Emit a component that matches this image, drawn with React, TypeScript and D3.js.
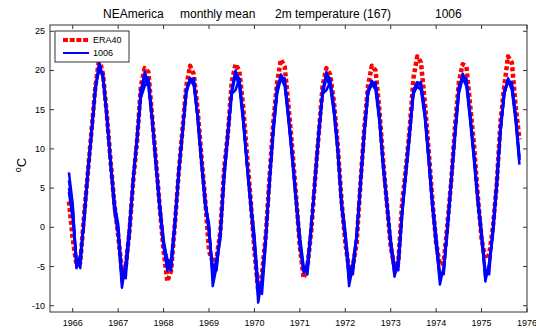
import React from "react";
import * as d3 from "d3";

// Monthly series, Nov 1965 .. Oct 1975 (12 values per row: Nov..Oct)
const era40: number[] = [
  3.3, -1.5, -4.8, -4.5, 1.5, 7.0, 12.5, 18.0, 21.5, 19.5, 14.5, 8.5,
  3.0, -1.0, -5.6, -5.0, -0.5, 6.0, 11.0, 18.0, 20.3, 19.8, 14.0, 8.5,
  2.5, -3.0, -6.9, -5.5, 0.5, 7.0, 12.5, 18.0, 20.6, 19.5, 15.0, 9.0,
  3.5, -3.0, -4.5, -4.0, -0.5, 7.5, 12.0, 18.5, 20.8, 20.0, 15.5, 9.5,
  3.5, -3.0, -8.2, -6.0, -1.0, 6.5, 13.5, 18.5, 21.4, 20.5, 15.5, 10.0,
  4.0, -2.5, -6.5, -5.0, -0.5, 6.0, 12.0, 18.0, 20.3, 19.5, 16.0, 10.5,
  3.5, -2.0, -5.4, -5.0, -2.0, 5.5, 12.5, 18.0, 20.6, 20.0, 15.0, 8.5,
  3.0, -2.5, -5.0, -4.5, 3.0, 7.5, 12.5, 19.0, 21.8, 21.0, 16.0, 10.0,
  3.5, -2.0, -4.8, -4.5, 0.5, 6.0, 13.0, 18.5, 20.8, 20.5, 15.5, 10.5,
  4.0, -1.5, -4.0, -3.5, 0.0, 5.5, 13.5, 18.0, 21.8, 21.0, 15.5, 11.2,
];

const run1006a: number[] = [
  7.0, 3.0, -5.0, -4.0, 1.0, 7.0, 12.0, 17.5, 20.8, 19.0, 14.0, 8.0,
  2.5, -1.0, -7.7, -4.5, 0.0, 6.5, 11.5, 17.0, 19.8, 18.5, 13.5, 8.0,
  2.5, -2.0, -5.0, -4.0, 1.0, 7.0, 12.0, 17.0, 19.0, 18.5, 14.0, 8.5,
  3.0, 0.5, -7.5, -5.0, -1.0, 6.5, 12.0, 17.5, 20.0, 18.5, 14.0, 8.5,
  3.0, -2.0, -9.6, -6.5, -1.5, 6.0, 12.5, 17.5, 19.5, 18.5, 14.0, 9.0,
  3.5, -2.0, -5.8, -4.5, 0.0, 6.0, 12.0, 17.0, 19.8, 18.5, 15.0, 10.0,
  3.0, -1.0, -7.5, -5.0, -1.5, 5.5, 12.0, 17.0, 18.7, 18.0, 14.0, 8.0,
  3.0, -2.0, -6.3, -4.0, 2.0, 7.0, 12.0, 17.0, 18.5, 18.0, 14.5, 9.0,
  3.0, -2.0, -7.3, -5.0, 0.0, 6.0, 12.0, 17.5, 19.6, 18.5, 14.0, 9.0,
  3.5, -1.0, -6.9, -4.5, -0.5, 5.5, 12.5, 17.0, 19.0, 18.0, 14.0, 8.6,
];

const run1006b: number[] = [
  4.5, 1.0, -4.0, -5.2, 1.5, 7.5, 12.5, 18.0, 20.5, 19.5, 14.5, 8.5,
  3.0, 0.5, -6.0, -6.5, -0.5, 6.0, 11.0, 16.5, 18.0, 18.5, 14.0, 8.5,
  3.0, -1.5, -4.5, -5.5, 0.5, 7.5, 12.5, 17.5, 18.5, 19.0, 14.5, 9.0,
  3.5, -1.0, -5.0, -4.5, -0.5, 7.0, 12.5, 17.0, 17.5, 19.0, 14.5, 8.0,
  3.5, -1.0, -7.5, -8.5, -2.0, 6.5, 13.0, 18.0, 19.0, 19.0, 14.5, 9.5,
  4.0, -1.0, -5.0, -6.0, -0.5, 6.5, 12.5, 17.0, 17.5, 18.5, 15.5, 10.5,
  3.5, -0.5, -5.5, -6.0, -1.0, 6.0, 12.5, 17.5, 18.0, 18.5, 14.5, 8.5,
  3.5, -1.5, -5.0, -5.5, 1.5, 7.5, 12.5, 17.5, 18.3, 18.5, 15.0, 9.5,
  3.5, -1.0, -6.0, -6.0, 0.5, 6.5, 12.5, 18.0, 19.0, 19.0, 14.5, 9.5,
  4.0, -0.5, -5.5, -6.0, 0.0, 6.0, 13.0, 17.5, 18.5, 18.5, 14.5, 9.0,
];

const run1006c: number[] = [
  5.0, 2.0, -5.2, -3.5, 0.5, 6.5, 12.0, 17.5, 21.0, 19.0, 14.0, 8.0,
  2.0, -0.5, -7.0, -5.5, -1.0, 6.0, 11.5, 17.5, 19.5, 18.0, 13.5, 7.5,
  2.0, -2.5, -5.5, -4.5, 0.0, 6.5, 12.0, 17.5, 19.0, 18.0, 14.0, 8.0,
  2.5, 0.0, -6.5, -4.0, -1.5, 6.0, 11.5, 17.0, 19.5, 18.0, 13.5, 8.0,
  2.5, -2.5, -8.8, -7.5, -1.0, 5.5, 12.0, 17.0, 19.0, 18.0, 13.5, 8.5,
  3.0, -2.5, -5.5, -5.5, 0.5, 5.5, 11.5, 17.0, 19.0, 18.0, 14.5, 9.5,
  2.5, -1.5, -6.5, -4.5, -1.0, 5.0, 11.5, 17.0, 18.5, 17.5, 13.5, 7.5,
  2.5, -2.5, -6.0, -5.0, 1.5, 6.5, 11.5, 17.0, 18.0, 17.5, 14.0, 8.5,
  2.5, -2.5, -6.5, -5.5, -0.5, 5.5, 11.5, 17.0, 19.0, 18.0, 13.5, 8.5,
  3.0, -1.5, -6.0, -5.0, -1.0, 5.0, 12.0, 17.0, 18.8, 17.5, 13.5, 8.0,
];

const run1006d: number[] = [
  6.0, 2.5, -4.5, -4.5, 1.0, 7.0, 12.5, 18.0, 20.0, 19.5, 14.5, 8.5,
  3.5, -0.5, -6.5, -5.0, 0.5, 6.5, 11.5, 17.5, 18.5, 19.0, 14.0, 8.0,
  3.0, -2.0, -4.0, -5.0, 0.5, 7.0, 12.0, 17.5, 19.0, 18.5, 14.0, 8.5,
  3.5, 0.0, -6.0, -5.5, -0.5, 7.0, 12.0, 17.5, 19.5, 19.0, 14.0, 8.5,
  3.5, -2.0, -8.0, -7.0, -1.0, 6.0, 12.5, 17.5, 19.3, 18.5, 14.0, 9.0,
  3.5, -2.0, -5.5, -5.0, 0.0, 6.0, 12.0, 17.5, 19.5, 19.0, 15.0, 10.0,
  3.0, -1.0, -6.0, -5.5, -1.0, 5.5, 12.0, 17.5, 18.5, 18.0, 14.0, 8.0,
  3.0, -2.0, -5.5, -4.5, 2.0, 7.0, 12.0, 17.5, 18.5, 18.0, 14.5, 9.0,
  3.0, -1.5, -6.5, -5.5, 0.0, 6.0, 12.0, 17.5, 19.3, 18.5, 14.0, 9.0,
  3.5, -1.0, -6.5, -5.0, -0.5, 5.5, 12.5, 17.0, 18.6, 18.0, 14.0, 8.6,
];

const runs1006 = [run1006a, run1006b, run1006c, run1006d];

const startYear = 1965;
const startMonth = 11; // November
const xTicks = [1966, 1967, 1968, 1969, 1970, 1971, 1972, 1973, 1974, 1975, 1976];
const yTicks = [-10, -5, 0, 5, 10, 15, 20, 25];
const titleParts = ["NEAmerica", "monthly mean", "2m temperature (167)", "1006"];
const legendLabels = ["ERA40", "1006"];

const W = 536;
const H = 328;
const left = 50;
const right = 527;
const top = 25;
const bottom = 312;

export default function App() {
  const x = d3.scaleLinear().domain([1965.5, 1976]).range([left, right]);
  const y = d3.scaleLinear().domain([-10.8, 25.8]).range([bottom, top]);
  const t = (i: number) => startYear + startMonth / 12 + i / 12;
  const line = d3
    .line<number>()
    .x((_, i) => x(t(i)))
    .y((d) => y(d));

  const axisColor = "#333";
  const tick = 4;
  const font = "Liberation Sans, Arial, Helvetica, sans-serif";

  return (
    <svg
      width={W}
      height={H}
      style={{ position: "absolute", left: 0, top: 0, background: "#fff" }}
      fontFamily={font}
    >
      <rect x={0} y={0} width={W} height={H} fill="#fff" />
      <defs>
        <clipPath id="plotclip">
          <rect x={left} y={top} width={right - left} height={bottom - top} />
        </clipPath>
      </defs>
      <g clipPath="url(#plotclip)">
        <path
          d={line(era40) || ""}
          fill="none"
          stroke="#ff0000"
          strokeWidth={4.5}
          strokeDasharray="4,2.5"
          strokeLinejoin="round"
        />
        {runs1006.map((r, k) => (
          <path
            key={k}
            d={line(r) || ""}
            fill="none"
            stroke="#0000ff"
            strokeWidth={2.5}
            strokeLinejoin="round"
          />
        ))}
      </g>
      {/* frame */}
      <rect
        x={left}
        y={top}
        width={right - left}
        height={bottom - top}
        fill="none"
        stroke={axisColor}
        strokeWidth={1}
      />
      {xTicks.map((v) => (
        <g key={"x" + v}>
          <line x1={x(v)} x2={x(v)} y1={bottom} y2={bottom - tick} stroke={axisColor} />
          <line x1={x(v)} x2={x(v)} y1={top} y2={top + tick} stroke={axisColor} />
          <text x={x(v)} y={bottom + 14} fontSize={9} textAnchor="middle" fill="#000">
            {v}
          </text>
        </g>
      ))}
      {yTicks.map((v) => (
        <g key={"y" + v}>
          <line x1={left} x2={left + tick} y1={y(v)} y2={y(v)} stroke={axisColor} />
          <line x1={right} x2={right - tick} y1={y(v)} y2={y(v)} stroke={axisColor} />
          <text x={left - 5} y={y(v) + 3} fontSize={9} textAnchor="end" fill="#000">
            {v}
          </text>
        </g>
      ))}
      {/* title */}
      <text y={18} fontSize={12} fill="#000">
        <tspan x={103}>{titleParts[0]}</tspan>
        <tspan x={180}>{titleParts[1]}</tspan>
        <tspan x={275}>{titleParts[2]}</tspan>
        <tspan x={435}>{titleParts[3]}</tspan>
      </text>
      {/* y label */}
      <g transform="translate(26,165) rotate(-90)">
        <text fontSize={13} fill="#000" textAnchor="middle">
          <tspan fontSize={9} dy={-5}>o</tspan>
          <tspan dy={5}>C</tspan>
        </text>
      </g>
      {/* legend */}
      <rect x={55} y={31} width={74} height={31} fill="#fff" stroke={axisColor} strokeWidth={1} />
      <line x1={63} x2={89} y1={40} y2={40} stroke="#ff0000" strokeWidth={4} strokeDasharray="5,1.7" />
      <line x1={63} x2={89} y1={53} y2={53} stroke="#0000ff" strokeWidth={2} />
      <text x={93} y={43} fontSize={9} fill="#000">{legendLabels[0]}</text>
      <text x={93} y={56} fontSize={9} fill="#000">{legendLabels[1]}</text>
    </svg>
  );
}
